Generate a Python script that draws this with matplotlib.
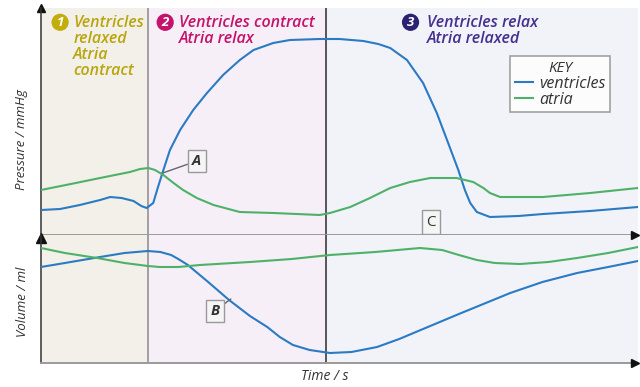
import matplotlib.pyplot as plt

# time in % of one cardiac cycle
phase_edges = [0, 17.9, 47.7, 100]
phase_colors = ['#f3f0e9', '#f6eff7', '#f2f2f9']

# pressure (arbitrary units)
t_vp = [0, 3.2, 6.5, 9.9, 11.6, 13.5, 15.5, 16.8, 17.7, 18.8, 19.6, 20.5, 21.6, 23.3,
        25.5, 27.8, 30.5, 33.3, 35.6, 38.9, 41.7, 46.7, 50.0, 54.0, 56.5, 58.5, 61.3,
        64.0, 66.3, 68.2, 69.9, 71.0, 71.9, 73.0, 75.2, 80.0, 84.1, 92.0, 100]
p_vent = [27, 28, 32, 37, 40, 39, 36, 31, 29, 34, 50, 67, 87, 107,
          127, 144, 162, 177, 187, 194, 197, 198, 198, 196, 193, 189, 177,
          154, 124, 94, 67, 47, 34, 25, 20, 21, 23, 26, 30]

t_ap = [0, 5.0, 9.9, 14.9, 16.6, 18.0, 19.1, 20.5, 22.2, 23.8, 26.1, 28.9, 33.3, 38.9,
        46.7, 48.4, 51.8, 55.1, 58.5, 61.8, 65.2, 69.6, 72.4, 74.1, 75.2, 76.9, 80.0,
        84.1, 92.0, 100]
p_atria = [47, 53, 59, 65, 68, 69, 67, 62, 54, 47, 39, 32, 25, 24,
           22, 24, 30, 39, 49, 55, 59, 59, 55, 49, 44, 40, 40,
           40, 44, 49]

# volume (arbitrary units)
t_vv = [0, 4.0, 9.9, 14.0, 17.9, 20.0, 21.8, 23.0, 24.6, 28.0, 31.5, 35.0, 37.9, 40.0,
        42.2, 45.0, 48.4, 52.0, 56.3, 60.0, 64.8, 70.0, 78.6, 84.0, 89.8, 95.0, 100]
v_vent = [97, 101, 107, 111, 113, 112, 109, 105, 99, 82, 64, 48, 37, 27,
          19, 14, 11, 12, 17, 25, 37, 50, 71, 82, 91, 97, 103]

t_av = [0, 4.0, 9.4, 14.0, 17.9, 19.9, 23.0, 26.6, 35.0, 42.0, 48.4, 56.0, 63.5, 67.2,
        70.0, 73.0, 76.0, 80.2, 85.0, 89.8, 95.0, 100]
v_atria = [116, 111, 106, 101, 98, 97, 97, 99, 102, 105, 109, 112, 116, 114,
           109, 104, 101, 100, 102, 106, 111, 117]

phase_text = ['Ventricles\nrelaxed\nAtria\ncontract',
              'Ventricles contract\nAtria relax',
              'Ventricles relax\nAtria relaxed']
phase_text_colors = ['#b9a60e', '#c4136c', '#45308f']
phase_num_colors = ['#c2ad0a', '#c4136c', '#2a2270']

blue = '#2a7bc4'
green = '#4db267'
font = 'Open Sans'

fig = plt.figure(figsize=(6.4, 3.87), dpi=100)
axp = fig.add_axes([41 / 640, 1 - 235 / 387, 597 / 640, 227 / 387])
axv = fig.add_axes([41 / 640, 1 - 363 / 387, 597 / 640, 128 / 387])

for ax, ylim in ((axp, (2, 229)), (axv, (1, 129))):
    ax.set_xlim(0, 100)
    ax.set_ylim(*ylim)
    for i in range(3):
        ax.axvspan(phase_edges[i], phase_edges[i + 1], color=phase_colors[i], lw=0, zorder=0)
    ax.axvline(phase_edges[1], color='#8a8a8a', lw=1.1, zorder=1)
    ax.axvline(phase_edges[2], color='#2b2b2b', lw=1.1, zorder=1)
    ax.set_xticks([])
    ax.set_yticks([])
    for s in ('top', 'right'):
        ax.spines[s].set_visible(False)
    ax.spines['left'].set_color('#333333')
    ax.spines['left'].set_linewidth(1.1)
    ax.spines['bottom'].set_color('#9a9a9a')
    ax.spines['bottom'].set_linewidth(1.4)

# arrow heads (middle one drawn on the lower axes so it is not covered)
axv.plot([0.995, 0.995], [0, 1.0], marker='>', ls='none', color='#111111', ms=6,
         transform=axv.transAxes, clip_on=False, zorder=5)
axp.plot([0], [1], marker='^', color='#111111', ms=6, transform=axp.transAxes, clip_on=False)
axv.plot([0], [0.975], marker='^', color='#111111', ms=7, transform=axv.transAxes, clip_on=False)

axp.plot(t_vp, p_vent, color=blue, lw=1.5, label='ventricles', zorder=3)
axp.plot(t_ap, p_atria, color=green, lw=1.5, label='atria', zorder=3)
axv.plot(t_vv, v_vent, color=blue, lw=1.5, zorder=3)
axv.plot(t_av, v_atria, color=green, lw=1.5, zorder=3)

# phase headings
num_x = [3.2, 20.8, 61.9]
txt_x = [5.4, 23.1, 64.7]
for i in range(3):
    axp.text(num_x[i], 0.937, str(i + 1), transform=axp.get_xaxis_transform(),
             ha='center', va='center', color='white', fontsize=9.5, fontweight='bold',
             family=font, style='italic',
             bbox=dict(boxstyle='circle,pad=0.16', fc=phase_num_colors[i], ec='none'))
    axp.text(txt_x[i], 0.968, phase_text[i], transform=axp.get_xaxis_transform(),
             ha='left', va='top', color=phase_text_colors[i], fontsize=11.5,
             family=font, style='italic', fontweight='semibold', linespacing=0.98)

# key
leg = axp.legend(title='KEY', loc='upper left', bbox_to_anchor=(0.786, 0.789),
                 borderaxespad=0, frameon=True, fancybox=False, handlelength=1.1,
                 handletextpad=0.4, borderpad=0.3, labelspacing=0.0, labelcolor='#333333',
                 prop=dict(family=font, style='italic', size=11.5))
leg.get_frame().set_edgecolor('#8c8c8c')
leg.get_frame().set_linewidth(1.2)
leg.get_title().set_fontfamily(font)
leg.get_title().set_fontstyle('italic')
leg.get_title().set_fontsize(11)
leg.get_title().set_color('#333333')

# labelled boxes
box = dict(boxstyle='square,pad=0.3', fc='#f5f5f5', ec='#9a9a9a', lw=1)
axp.annotate('A', xy=(20.4, 64), xytext=(26.1, 76), ha='center', va='center',
             fontsize=10.5, fontweight='bold', style='italic', family=font, color='#333333',
             bbox=box, arrowprops=dict(arrowstyle='-', color='#666666', lw=1, shrinkA=0, shrinkB=0))
axv.annotate('B', xy=(31.8, 65), xytext=(29.1, 53), ha='center', va='center',
             fontsize=10.5, fontweight='bold', style='italic', family=font, color='#333333',
             bbox=box, arrowprops=dict(arrowstyle='-', color='#666666', lw=1, shrinkA=0, shrinkB=0))
axp.text(65.3, 15, 'C', ha='center', va='center', fontsize=11, family=font,
         color='#333333', bbox=box)

fig.text(22 / 640, 1 - 140 / 387, 'Pressure / mmHg', rotation=90, ha='center', va='center',
         fontsize=9.5, family=font, style='italic', color='#333333')
fig.text(22 / 640, 1 - 302 / 387, 'Volume / ml', rotation=90, ha='center', va='center',
         fontsize=9.5, family=font, style='italic', color='#333333')
fig.text(325 / 640, 1 - 376 / 387, 'Time / s', ha='center', va='center',
         fontsize=10, family=font, style='italic', color='#333333')

fig.savefig('out.png', dpi=100)
